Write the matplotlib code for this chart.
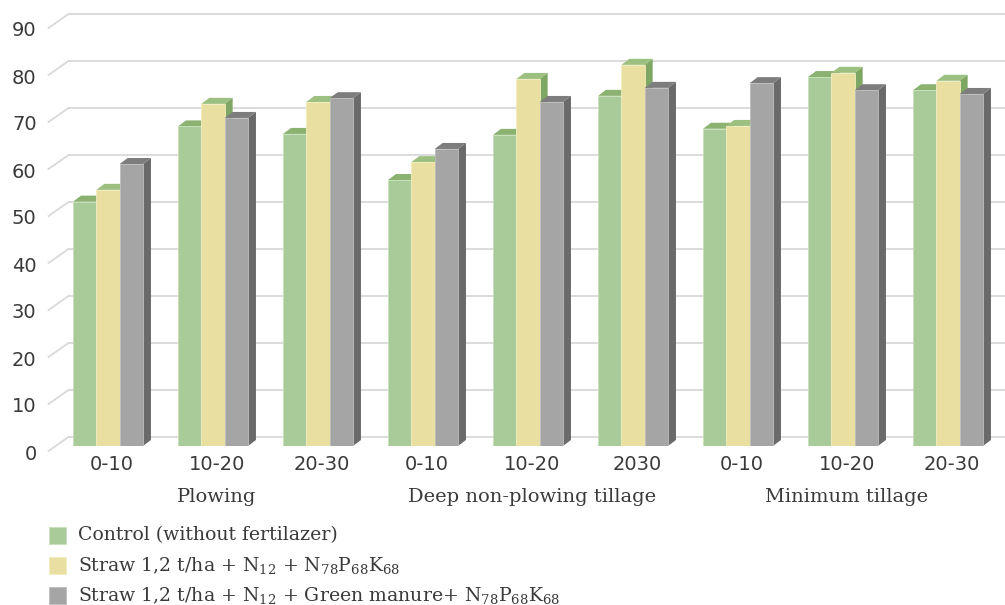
import matplotlib
matplotlib.use('Agg')
import matplotlib.pyplot as plt
from matplotlib.patches import Polygon, Rectangle

plt.rcParams['mathtext.fontset'] = 'custom'
plt.rcParams['mathtext.rm'] = 'DejaVu Serif'
plt.rcParams['mathtext.default'] = 'rm'

depths = ['0-10', '10-20', '20-30', '0-10', '10-20', '2030', '0-10', '10-20', '20-30']
systems = ['Plowing', 'Deep non-plowing tillage', 'Minimum tillage']

control = [52.0, 68.0, 66.4, 56.6, 66.2, 74.5, 67.5, 78.5, 75.7]
straw = [54.5, 72.8, 73.2, 60.4, 78.1, 81.1, 68.1, 79.4, 77.7]
straw_green = [60.0, 69.8, 74.0, 63.2, 73.2, 76.2, 77.2, 75.7, 74.9]

series = [control, straw, straw_green]
labels = ['Control (without fertilazer)',
          'Straw 1,2 t/ha + N$_{12}$ + N$_{78}$P$_{68}$K$_{68}$',
          'Straw 1,2 t/ha + N$_{12}$ + Green manure+ N$_{78}$P$_{68}$K$_{68}$']
front_colors = ['#a9cb9a', '#e8dfa1', '#a5a5a5']
edge_colors = ['#c6e0b8', '#f3ecc0', '#bdbdbd']
top_colors = ['#8bb270', '#9cc07f', '#7d7d7d']
side_colors = ['#78a15c', '#7ea764', '#6a6a6a']

text_color = '#3a3a3a'
grid_color = '#d9d9d9'

W, H = 1005, 605
fig = plt.figure(figsize=(W / 100, H / 100), dpi=100)
ax_l, ax_w, zero_y, ax_h = 55.5, 945, 446, 423
ax = fig.add_axes([ax_l / W, (H - zero_y) / H, ax_w / W, ax_h / H])
ax.set_xlim(-0.5, 8.5)
ax.set_ylim(0, 90)
ax.axis('off')

# pixel -> data unit conversion
ux = ax_w / 9
uy = ax_h / 90

# back wall and front offsets relative to the bar plane (pixels)
back_dx, back_dy = 13, 9
front_dx, front_dy = -7, -5
bar_dx, bar_dy = 8, 6

for v in range(0, 100, 10):
    ax.plot([-0.5 + back_dx / ux, 8.5 + 30 / ux], [v + back_dy / uy] * 2,
            color=grid_color, lw=1.3, clip_on=False, zorder=0)
    ax.plot([-0.5 + front_dx / ux, -0.5 + back_dx / ux],
            [v + front_dy / uy, v + back_dy / uy],
            color=grid_color, lw=1.3, clip_on=False, zorder=0)
    ax.text(-0.5 + (front_dx - 12) / ux, v + (front_dy - 3) / uy, str(v),
            ha='right', va='center', fontsize=14, color=text_color,
            family='DejaVu Sans')

w = 0.222
z = 2
for i in range(len(depths)):
    for s, vals in enumerate(series):
        val = vals[i]
        x0 = i - 1.5 * w + s * w
        ddx, ddy = bar_dx / ux, bar_dy / uy
        side = Polygon([(x0 + w, 0), (x0 + w + ddx, ddy),
                        (x0 + w + ddx, val + ddy), (x0 + w, val)],
                       closed=True, fc=side_colors[s], ec='none', zorder=z)
        top = Polygon([(x0, val), (x0 + w, val), (x0 + w + ddx, val + ddy),
                       (x0 + ddx, val + ddy)],
                      closed=True, fc=top_colors[s], ec='none', zorder=z)
        ax.add_patch(side)
        ax.add_patch(top)
        ax.bar(x0 + w / 2, val, width=w, color=front_colors[s],
               edgecolor=edge_colors[s], linewidth=0.6, zorder=z + 1)
        z += 2

for i, d in enumerate(depths):
    ax.text(i + 4 / ux, -19 / uy, d, ha='center', va='center', fontsize=14,
            color=text_color, family='DejaVu Sans')

for g, name in enumerate(systems):
    ax.text(3 * g + 1 + 4 / ux, -51 / uy, name, ha='center', va='center',
            fontsize=14, color=text_color, family='DejaVu Serif')

# legend
for s, lab in enumerate(labels):
    cy = 535 + 30 * s
    fig.add_artist(Rectangle((49 / W, (H - cy - 8.5) / H), 17 / W, 17 / H,
                             transform=fig.transFigure, fc=front_colors[s],
                             ec=edge_colors[s], lw=0.6))
    fig.text(78 / W, (H - cy) / H, lab, ha='left', va='center',
             fontsize=13.6, color=text_color, family='DejaVu Serif')

fig.savefig('out.png', dpi=100)
